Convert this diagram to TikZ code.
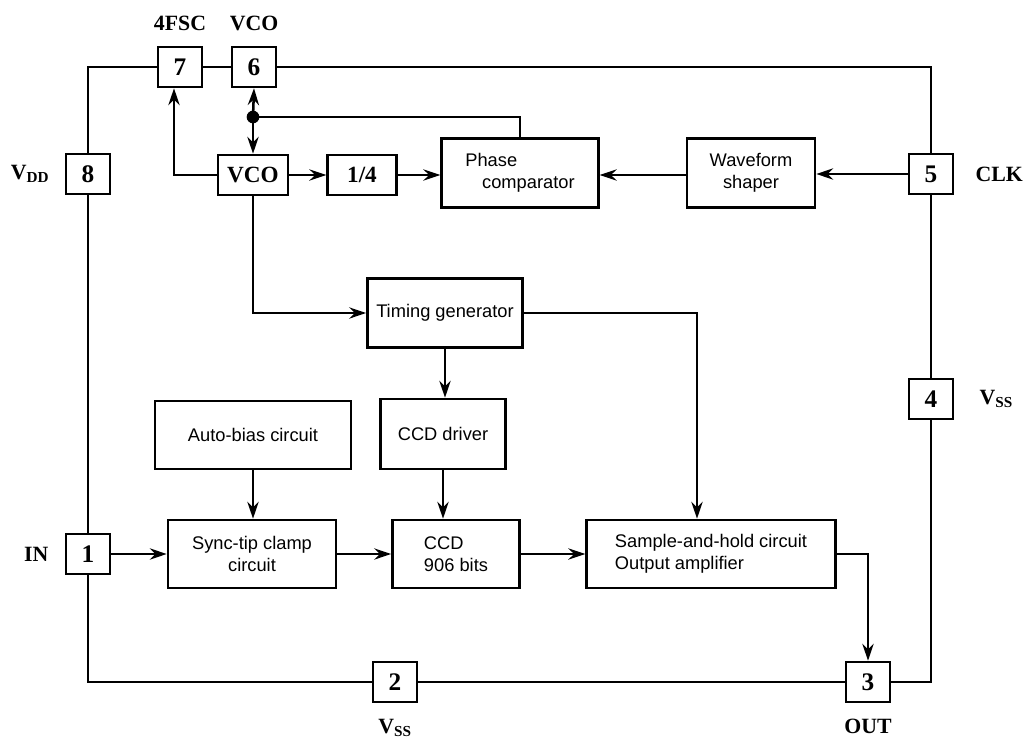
\documentclass[tikz,border=0pt]{standalone}
\usepackage{fontspec}
\setmainfont{Liberation Serif}
\setsansfont{Liberation Sans}
\usetikzlibrary{arrows.meta,positioning}

\begin{document}
\begin{tikzpicture}[x=0.025cm,y=-0.025cm,line width=1.8pt,
    pin/.style={draw, minimum width=1.1cm, minimum height=1cm, inner sep=0pt,
      font=\fontsize{18}{20}\selectfont\bfseries},
    lbl/.style={inner sep=0pt, font=\fontsize{15.5}{18}\selectfont\bfseries},
    blk/.style={draw, inner sep=2pt, align=center, font=\fontsize{13}{16}\selectfont\sffamily},
    sblk/.style={draw, inner sep=0pt, minimum height=1cm, font=\fontsize{16.5}{20}\selectfont\bfseries},
    arr/.style={-{Stealth[length=12pt,width=8pt,inset=4pt]}}]
  \useasboundingbox (0,0) rectangle (1025,742);
  % Pins of the package
  \node[pin] (p7) at (180,67) {7};
  \node[pin] (p6) at (254,67) {6};
  \node[pin] (p8) at (88,174) {8};
  \node[pin] (p5) at (931,174) {5};
  \node[pin] (p4) at (931,399) {4};
  \node[pin] (p1) at (88,554) {1};
  \node[pin] (p2) at (395,682) {2};
  \node[pin] (p3) at (868,682) {3};
  % Pin names
  \node[lbl, above=0.35cm of p7] {4FSC};
  \node[lbl, above=0.35cm of p6] {VCO};
  \node[lbl, left=0.35cm of p8] {V\textsubscript{DD}};
  \node[lbl, right=0.5cm of p5] {CLK};
  \node[lbl, right=0.6cm of p4] {V\textsubscript{SS}};
  \node[lbl, left=0.38cm of p1] {IN};
  \node[lbl, below=0.37cm of p2] {V\textsubscript{SS}};
  \node[lbl, below=0.37cm of p3] {OUT};
  % Blocks
  \node[sblk, minimum width=1.75cm] (vco) at (253,175) {VCO};
  \node[sblk, minimum width=1.72cm] (div) at (362,175) {1/4};
  \node[blk, align=left, minimum width=3.92cm, minimum height=1.72cm] (pc) at (520,173)
    {Phase\\\hspace*{0.42cm}comparator};
  \node[blk, minimum width=3.2cm, minimum height=1.72cm] (wf) at (751,173) {Waveform\\shaper};
  \node[blk, minimum width=3.88cm, minimum height=1.72cm] (tg) at (445,313) {Timing generator};
  \node[blk, minimum width=4.9cm, minimum height=1.7cm] (ab) at (253,435) {Auto-bias circuit};
  \node[blk, minimum width=3.12cm, minimum height=1.75cm] (drv) at (443,434) {CCD driver};
  \node[blk, minimum width=4.2cm, minimum height=1.7cm] (sync) at (252,554) {Sync-tip clamp\\circuit};
  \node[blk, align=left, minimum width=3.18cm, minimum height=1.7cm] (ccd) at (456,554) {CCD\\906 bits};
  \node[blk, align=left, minimum width=6.22cm, minimum height=1.7cm] (sh) at (711,554)
    {Sample-and-hold circuit\\Output amplifier};
  % Supply and ground wires
  \draw (p8.north) |- (p7.west);
  \draw (p7.east) -- (p6.west);
  \draw (p5.north) |- (p6.east);
  \draw (p8.south) -- (p1.north);
  \draw (p1.south) |- (p2.west);
  \draw (p2.east) -- (p3.west);
  \draw (p3.east) -| (p4.south);
  \draw (p4.north) -- (p5.south);
  % PLL loop
  \coordinate (dot) at (253,117);
  \fill (dot) circle (4.5pt);
  \draw[arr] (dot) -- (p6.south);
  \draw[arr] (dot) -- (vco.north);
  \draw (pc.north) |- (dot);
  \draw[arr] (vco.west) -| ([xshift=-0.15cm]p7.south);
  \draw[arr] (vco) -- (div);
  \draw[arr] (div.east) -- (div.east -| pc.west);
  \draw[arr] (wf.west |- div.east) -- (pc.east |- div.east);
  \draw[arr] (p5.west) -- (p5.west -| wf.east);
  % Signal path
  \draw[arr] (vco.south) |- (tg.west);
  \draw[arr] (tg.south) -- (tg.south |- drv.north);
  \coordinate (shin) at ([xshift=-0.35cm]sh.north);
  \draw[arr] (tg.east) -| (shin);
  \draw[arr] (ab.south) -- (sync.north -| ab.south);
  \draw[arr] (drv.south) -- (ccd.north -| drv.south);
  \draw[arr] (p1.east) -- (sync.west);
  \draw[arr] (sync) -- (ccd);
  \draw[arr] (ccd) -- (sh);
  \draw[arr] (sh.east) -| (p3.north);
\end{tikzpicture}
\end{document}
